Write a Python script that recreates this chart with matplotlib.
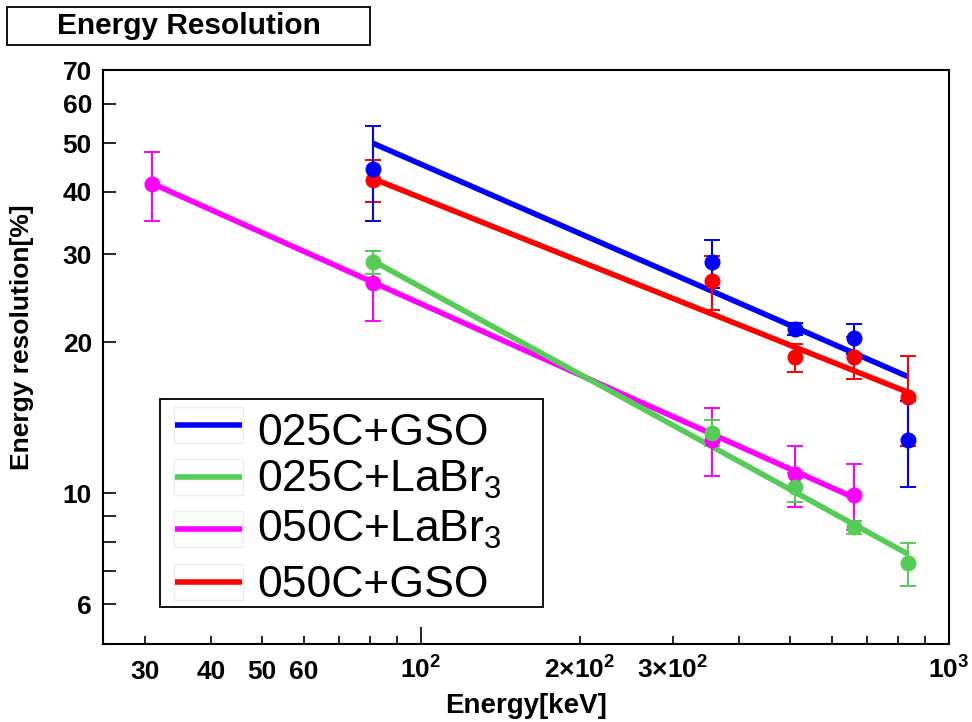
import numpy as np
import matplotlib
matplotlib.use("Agg")
import matplotlib.pyplot as plt
from matplotlib.lines import Line2D
from matplotlib.patches import Rectangle

plt.rcParams['font.family'] = ['Liberation Sans', 'DejaVu Sans']
plt.rcParams['mathtext.fontset'] = 'custom'
plt.rcParams['mathtext.rm'] = 'Liberation Sans'
plt.rcParams['mathtext.bf'] = 'Liberation Sans:bold'
plt.rcParams['mathtext.it'] = 'Liberation Sans:italic'

# ---- data ----
series_names = ['025C+GSO', '025C+LaBr$_3$', '050C+LaBr$_3$', '050C+GSO']
series_colors = ['#0000ff', '#55cc55', '#ff00ff', '#ff0000']

energy_gso = [81, 356, 511, 662, 835]
energy_labr_025 = [81, 356, 511, 662, 835]
energy_labr_050 = [31, 81, 356, 511, 662]

res_025_gso = [44.5, 28.9, 21.3, 20.4, 12.8]
err_025_gso = [9.6, 3.2, 0.6, 1.4, 2.5]

res_025_labr = [28.9, 13.2, 10.3, 8.55, 7.24]
err_025_labr = [1.5, 0.8, 0.7, 0.25, 0.7]

res_050_labr = [41.5, 26.3, 12.8, 10.9, 9.94]
err_050_labr = [6.5, 4.2, 2.0, 1.5, 1.5]

res_050_gso = [42.2, 26.5, 18.7, 18.7, 15.6]
err_050_gso = [4.1, 3.3, 1.2, 1.8, 3.2]

# power-law fits y = amp * (E/100)^exp
fit_amp = [45.4, 25.8, 23.9, 38.9]
fit_exp = [-0.460, -0.578, -0.472, -0.421]

x_major = [100, 1000]
x_major_labels = [r'$\mathbf{10^{2}}$', r'$\mathbf{10^{3}}$']
x_minor = [30, 40, 50, 60, 70, 80, 90, 200, 300, 400, 500, 600, 700, 800, 900]
x_minor_labels = ['30', '40', '50', '60', '', '', '', r'$\mathbf{2{\times}10^{2}}$',
                  r'$\mathbf{3{\times}10^{2}}$', '', '', '', '', '', '']
y_major = [6, 10, 20, 30, 40, 50, 60, 70]
y_minor = [7, 8, 9]

energies = [energy_gso, energy_labr_025, energy_labr_050, energy_gso]
values = [res_025_gso, res_025_labr, res_050_labr, res_050_gso]
errors = [err_025_gso, err_025_labr, err_050_labr, err_050_gso]

# ---- figure ----
W, H = 972, 722
fig = plt.figure(figsize=(W / 100, H / 100), dpi=100)
ax = fig.add_axes([103 / W, 1 - 644 / H, (949 - 103) / W, (644 - 70) / H])
ax.set_xscale('log')
ax.set_yscale('log')
ax.set_xlim(25, 1000)
ax.set_ylim(5, 70)

draw_order = [3, 2, 1, 0]
for i in draw_order:
    e = np.array(energies[i], dtype=float)
    xs = np.geomspace(e.min(), e.max(), 100)
    ax.plot(xs, fit_amp[i] * (xs / 100.0) ** fit_exp[i], color=series_colors[i],
            lw=4, solid_capstyle='butt', zorder=2)
for i in draw_order:
    ax.errorbar(energies[i], values[i], yerr=errors[i], fmt='o', color=series_colors[i],
                ms=10.5, mec=series_colors[i], elinewidth=1.5, capsize=5.5,
                capthick=1.4, zorder=3)

# ticks
ax.xaxis.set_major_locator(matplotlib.ticker.FixedLocator(x_major))
ax.xaxis.set_major_formatter(matplotlib.ticker.FixedFormatter(x_major_labels))
ax.xaxis.set_minor_locator(matplotlib.ticker.FixedLocator(x_minor))
ax.xaxis.set_minor_formatter(matplotlib.ticker.FixedFormatter(x_minor_labels))
ax.yaxis.set_major_locator(matplotlib.ticker.FixedLocator(y_major))
ax.yaxis.set_major_formatter(matplotlib.ticker.FixedFormatter([str(v) for v in y_major]))
ax.yaxis.set_minor_locator(matplotlib.ticker.FixedLocator(y_minor))
ax.yaxis.set_minor_formatter(matplotlib.ticker.NullFormatter())

ax.tick_params(axis='x', which='major', direction='in', length=12, width=1.2,
               pad=25, labelsize=19, top=False)
ax.tick_params(axis='x', which='minor', direction='in', length=6, width=1.2,
               pad=25, labelsize=19, top=False)
ax.tick_params(axis='y', which='both', direction='in', length=9, width=1.2,
               pad=8, labelsize=19, right=False)
for lab in ax.get_xticklabels(which='both'):
    lab.set_fontweight('bold')
    lab.set_verticalalignment('baseline')
for lab in ax.get_yticklabels():
    lab.set_fontweight('bold')
for sp in ax.spines.values():
    sp.set_linewidth(1.5)

ax.set_xlabel('Energy[keV]', fontsize=20, fontweight='bold')
ax.xaxis.set_label_coords(0.5, -0.085)
ax.set_ylabel('Energy resolution[%]', fontsize=19, fontweight='bold')
ax.yaxis.set_label_coords(-0.082, 0.535)

# title box
fig.patches.append(Rectangle((7 / W, 1 - 45 / H), (370 - 7) / W, (45 - 7) / H,
                             transform=fig.transFigure, fill=False, ec='black', lw=1.3))
fig.text(189 / W, 1 - 26 / H, 'Energy Resolution', fontsize=21.5, fontweight='bold',
         ha='center', va='center')

# legend (manual layout in figure pixels)
def fx(px):
    return px / W

def fy(py):
    return 1 - py / H

fig.patches.append(Rectangle((fx(160), fy(607)), (543 - 160) / W, (607 - 399) / H,
                             transform=fig.transFigure, fc='white', ec='black', lw=1.3,
                             zorder=5))
row_line_y = [425, 477, 529, 582]
row_base_y = [445, 492, 542, 597]
for i in range(4):
    fig.patches.append(Rectangle((fx(174), fy(row_line_y[i] + 18)), 69 / W, 36 / H,
                                 transform=fig.transFigure, fill=False, ec='#ececec',
                                 lw=1.0, zorder=6))
    fig.add_artist(Line2D([fx(175), fx(242)], [fy(row_line_y[i])] * 2,
                          transform=fig.transFigure, color=series_colors[i], lw=4,
                          solid_capstyle='butt', zorder=7))
    fig.text(fx(257), fy(row_base_y[i]), series_names[i], fontsize=32,
             ha='left', va='baseline', zorder=7)

fig.savefig('out.png', dpi=100)
